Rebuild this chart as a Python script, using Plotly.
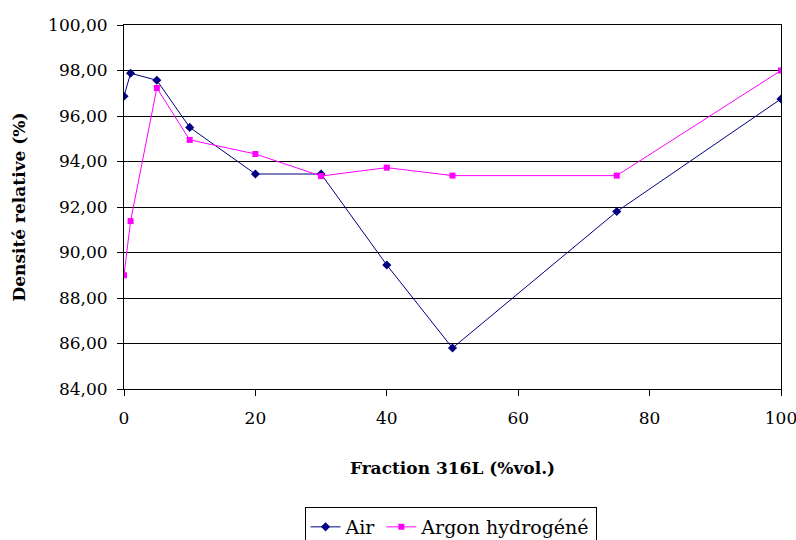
import plotly.graph_objects as go

fraction = [0, 1, 5, 10, 20, 30, 40, 50, 75, 100]
air = [96.87, 97.88, 97.57, 95.50, 93.45, 93.45, 89.45, 85.80, 91.80, 96.75]
argon = [89.00, 91.38, 97.23, 94.95, 94.33, 93.36, 93.73, 93.38, 93.38, 98.00]
y_ticks = [84, 86, 88, 90, 92, 94, 96, 98, 100]
y_labels = ["84,00", "86,00", "88,00", "90,00", "92,00", "94,00", "96,00", "98,00", "100,00"]
x_ticks = [0, 20, 40, 60, 80, 100]

FONT = "DejaVu Serif, Liberation Serif, serif"

fig = go.Figure()
fig.add_trace(go.Scatter(x=fraction, y=air, name="Air", mode="lines+markers",
                         line=dict(color="#000080", width=1),
                         marker=dict(symbol="diamond", size=7, color="#000080")))
fig.add_trace(go.Scatter(x=fraction, y=argon, name="Argon hydrogéné", mode="lines+markers",
                         line=dict(color="#FF00FF", width=1),
                         marker=dict(symbol="square", size=6, color="#FF00FF")))

fig.update_layout(
    width=796, height=540,
    margin=dict(l=124, r=15, t=25, b=151, autoexpand=False),
    paper_bgcolor="white", plot_bgcolor="white",
    font=dict(family=FONT, size=17, color="black"),
    showlegend=True,
    legend=dict(orientation="h", x=0.566, xanchor="center", xref="container",
                y=1 - 507 / 540, yanchor="top", yref="container",
                bordercolor="black", borderwidth=1, font=dict(family=FONT, size=19),
                tracegroupgap=0),
    xaxis=dict(range=[0, 100], tickvals=x_ticks, ticks="outside", ticklen=6,
               tickcolor="black", showline=True, linecolor="black", linewidth=1,
               mirror=True, showgrid=False, zeroline=False, ticklabelstandoff=8,
               ticklabeloverflow="allow",
               title=dict(text="<b>Fraction 316L (%vol.)</b>", standoff=34,
                          font=dict(family=FONT, size=17))),
    yaxis=dict(range=[84, 100], tickvals=y_ticks, ticktext=y_labels, ticks="outside",
               ticklen=6, tickcolor="black", showline=True, linecolor="black",
               linewidth=1, mirror=True, showgrid=True, gridcolor="black", gridwidth=1,
               zeroline=False, ticklabelstandoff=6, ticklabeloverflow="allow",
               title=dict(text="<b>Densité relative (%)</b>", standoff=18,
                          font=dict(family=FONT, size=17))),
)

fig.write_html("out.html", config={"displayModeBar": False},
               post_script="document.body.style.margin='0';document.body.style.overflow='hidden';")
